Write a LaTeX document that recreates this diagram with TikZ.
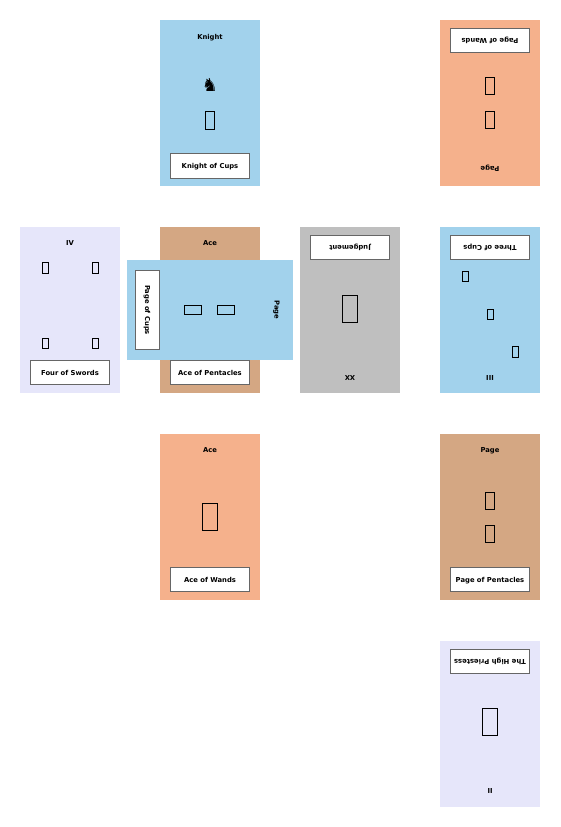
\documentclass[tikz,border=0pt]{standalone}
\usepackage{fontspec}
\setmainfont{DejaVu Sans}
\definecolor{cupsblue}{HTML}{A2D2EC}
\definecolor{wandsorange}{HTML}{F5B18C}
\definecolor{pentbrown}{HTML}{D4A783}
\definecolor{majgray}{HTML}{BFBFBF}
\definecolor{swordlav}{HTML}{E6E6FA}
\tikzset{
  cardbox/.style={draw=none,inner sep=0pt,minimum width=100pt,minimum height=166pt,anchor=center},
  cardside/.style={draw=none,inner sep=0pt,minimum width=166pt,minimum height=100pt,anchor=center},
  namebox/.style={draw=black!60,line width=0.9pt,fill=white,inner sep=0pt,outer sep=0pt,minimum width=79.5pt,minimum height=24.5pt,text height=5pt,text depth=0pt,font=\fontsize{6.8pt}{7pt}\selectfont\bfseries,anchor=center},
  namerot/.style={namebox,minimum width=24.5pt,minimum height=79.5pt},
  rank/.style={inner sep=0pt,text height=5pt,text depth=0pt,font=\fontsize{6.8pt}{7pt}\selectfont\bfseries,anchor=center},
  tofu/.style={draw=black,line width=0.8pt,inner sep=0pt,anchor=center,minimum width=#1},
  small/.style={tofu=6pt,minimum height=10.4pt},
  medium/.style={tofu=9pt,minimum height=17.2pt},
  large/.style={tofu=15.5pt,minimum height=27.5pt},
  wide/.style={tofu=16.5pt,minimum height=9pt},
}
\begin{document}
\begin{tikzpicture}[x=1pt,y=-1pt]
\useasboundingbox (0,0) rectangle (560,827);
\fill[white] (0,0) rectangle (560,827);
% Knight of Cups
\node[cardbox,fill=cupsblue] (kc) at (210,103) {};
\node[rank] (kcr) at (210,37) {Knight};
\node[inner sep=0pt,font=\fontsize{18pt}{18pt}\selectfont] (kcg) at (210,85) {♞};
\node[medium] (kct) at (210,120.3) {};
\node[namebox] (kcn) at (210,165.8) {Knight of Cups};
% Page of Wands
\node[cardbox,fill=wandsorange] (pw) at (490,103) {};
\node[rank,rotate=180] (pwr) at (490,169) {Page};
\node[medium] (pwa) at (490,86) {};
\node[medium] (pwb) at (490,119.5) {};
\node[namebox,rotate=180] (pwn) at (490,40.5) {Page of Wands};
% Four of Swords
\node[cardbox,fill=swordlav] (fs) at (70,310) {};
\node[rank] (fsr) at (70,243) {IV};
\node[small] (fsa) at (45,268) {};
\node[small] (fsb) at (95,268) {};
\node[small] (fsc) at (45,343.3) {};
\node[small] (fsd) at (95,343.3) {};
\node[namebox] (fsn) at (70,372.5) {Four of Swords};
% Ace of Pentacles
\node[cardbox,fill=pentbrown] (ap) at (210,310) {};
\node[rank] (apr) at (210,243) {Ace};
\node[namebox] (apn) at (210,372.5) {Ace of Pentacles};
% Page of Cups
\node[cardside,fill=cupsblue] (pc) at (210,310) {};
\node[rank,rotate=-90] (pcr) at (277,310) {Page};
\node[wide] (pca) at (193,310) {};
\node[wide] (pcb) at (226,310) {};
\node[namerot,text height=0pt] (pcn) at (147.5,310) {};
\node[rank,rotate=-90] (pcnt) at (147.5,310) {Page of Cups};
% Judgement
\node[cardbox,fill=majgray] (ju) at (350,310) {};
\node[rank,rotate=180] (jur) at (350,378) {XX};
\node[large] (jug) at (350,309) {};
\node[namebox,rotate=180] (jun) at (350,247.5) {Judgement};
% Three of Cups
\node[cardbox,fill=cupsblue] (tc) at (490,310) {};
\node[rank,rotate=180] (tcr) at (490,378) {III};
\node[small] (tca) at (465,276.3) {};
\node[small] (tcb) at (490,314.5) {};
\node[small] (tcc) at (515,351.8) {};
\node[namebox,rotate=180] (tcn) at (490,247.5) {Three of Cups};
% Ace of Wands
\node[cardbox,fill=wandsorange] (aw) at (210,517) {};
\node[rank] (awr) at (210,450) {Ace};
\node[large] (awg) at (210,517) {};
\node[namebox] (awn) at (210,579.5) {Ace of Wands};
% Page of Pentacles
\node[cardbox,fill=pentbrown] (pp) at (490,517) {};
\node[rank] (ppr) at (490,450) {Page};
\node[medium] (ppa) at (490,501) {};
\node[medium] (ppb) at (490,534) {};
\node[namebox] (ppn) at (490,579.5) {Page of Pentacles};
% High Priestess
\node[cardbox,fill=swordlav] (hp) at (490,724) {};
\node[rank,rotate=180] (hpr) at (490,791) {II};
\node[large] (hpg) at (490,722) {};
\node[namebox,rotate=180] (hpn) at (490,661.5) {The High Priestess};
\end{tikzpicture}
\end{document}
